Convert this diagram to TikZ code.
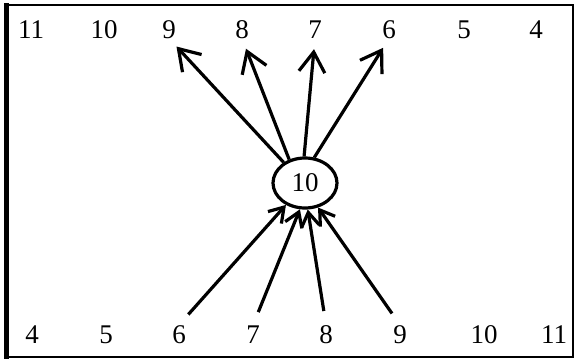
\documentclass[tikz,border=0pt]{standalone}
\usepackage{fontspec}
\setmainfont{Liberation Serif}
\usetikzlibrary{arrows.meta,shapes.geometric}
\tikzset{
  num/.style={inner sep=0pt, anchor=base, font=\fontsize{27}{31}\selectfont},
  hub/.style={draw, ellipse, line width=3.2pt, minimum width=64pt, minimum height=50pt, inner sep=0pt, font=\fontsize{27}{31}\selectfont},
  outarrow/.style={line width=3.2pt, -{Straight Barb[length=20pt,width=26pt,line width=3.2pt]}, shorten >=11pt},
  inarrow/.style={line width=3.2pt, -{Straight Barb[length=14pt,width=18pt,line width=3.2pt]}, shorten <=14pt}
}
\begin{document}
\begin{tikzpicture}[x=1pt,y=-1pt]
\useasboundingbox (0,0) rectangle (575,359);
\fill[white] (0,0) rectangle (575,359);
\draw[line width=2.5pt] (5,5) -- (573,5) -- (573,357) -- (5,357);
\draw[line width=5pt] (6,3) -- (6,359);
% top row
\node[num] (t11) at (31,38) {11};
\node[num] (t10) at (104,38) {10};
\node[num] (t9) at (169,38) {9};
\node[num] (t8) at (242,38) {8};
\node[num] (t7) at (315,38) {7};
\node[num] (t6) at (389,38) {6};
\node[num] (t5) at (464,38) {5};
\node[num] (t4) at (536,38) {4};
% bottom row
\node[num] (b4) at (32,343) {4};
\node[num] (b5) at (106,343) {5};
\node[num] (b6) at (179,343) {6};
\node[num] (b7) at (253,343) {7};
\node[num] (b8) at (326,343) {8};
\node[num] (b9) at (400,343) {9};
\node[num] (b10) at (484,343) {10};
\node[num] (b11) at (554,343) {11};
% hub
\node[hub] (c) at (305,183) {10};
% outgoing arrows
\draw[outarrow] (c.136) -- (t9.south);
\draw[outarrow] (c.124) -- (t8.south);
\draw[outarrow] (c.92) -- (t7.south);
\draw[outarrow] (c.70) -- (t6.south);
% incoming arrows
\draw[inarrow] (b6.north) -- (c.229);
\draw[inarrow] (b7.north) -- (c.259);
\draw[inarrow] (b8.north) -- (c.276);
\draw[inarrow] (b9.north) -- (c.298);
\end{tikzpicture}
\end{document}
